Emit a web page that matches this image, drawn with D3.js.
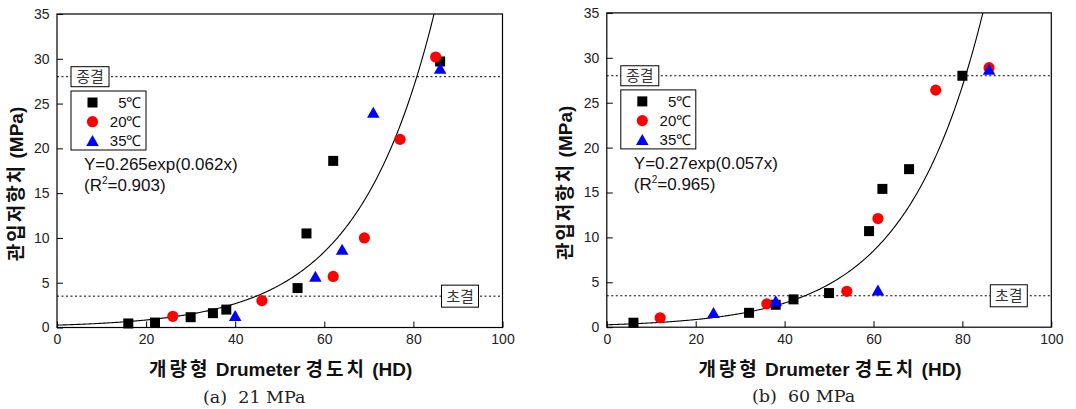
<!DOCTYPE html>
<html><head><meta charset="utf-8">
<script src="https://cdn.jsdelivr.net/npm/d3@7"></script>
<style>body{margin:0;background:#fff} svg{display:block}</style>
</head><body>
<svg id="chart" width="1076" height="409"></svg>
<script>
// ---------- data ----------
const xTicks = [0, 20, 40, 60, 80, 100];
const yTicks = [0, 5, 10, 15, 20, 25, 30, 35];
const seriesNames = ["5℃", "20℃", "35℃"];
const seriesColors = ["#000000", "#ff0000", "#0000ff"];
const seriesShapes = ["square", "circle", "triangle"];
const setTimes = [28, 3.5];            // 종결, 초결 (MPa)
const setLabels = ["종결", "초결"];

// (a) 21 MPa
const a_x5  = [16, 22, 30, 35, 38, 54, 56, 62, 86];
const a_y5  = [0.45, 0.55, 1.15, 1.6, 2.0, 4.4, 10.5, 18.6, 29.7];
const a_x20 = [26, 46, 62, 69, 77, 85];
const a_y20 = [1.25, 3.0, 5.7, 10.0, 21.0, 30.2];
const a_x35 = [40, 58, 64, 71, 86];
const a_y35 = [1.3, 5.7, 8.7, 24.0, 28.9];
const a_fit = [0.265, 0.0577];
const a_eq = "Y=0.265exp(0.062x)";
const a_r2 = "0.903";
const a_caption = "(a)  21 MPa";

// (b) 60 MPa
const b_x5  = [6, 32, 38, 42, 50, 59, 62, 68, 80];
const b_y5  = [0.5, 1.6, 2.5, 3.1, 3.8, 10.7, 15.4, 17.6, 28.0];
const b_x20 = [12, 36, 54, 61, 74, 86];
const b_y20 = [1.05, 2.6, 4.0, 12.1, 26.4, 28.9];
const b_x35 = [24, 38, 61, 86];
const b_y35 = [1.6, 2.9, 4.1, 28.7];
const b_fit = [0.27, 0.0575];
const b_eq = "Y=0.27exp(0.057x)";
const b_r2 = "0.965";
const b_caption = "(b)  60 MPa";

// title pieces: [text, isKorean]
const xTitleParts = [["개량형", true], [" Drumeter ", false], ["경도치", true], [" (HD)", false]];
const yTitleParts = [["관입저항치", true], [" (MPa)", false]];

// ---------- drawing ----------
const svg = d3.select("#chart");
const NUM_FONT = "'Liberation Sans', Arial, sans-serif";
const KR_FONT = "'Noto Sans CJK KR', sans-serif";

function markerPath(shape) {
  if (shape === "square") return "M-5,-5H5V5H-5Z";
  if (shape === "triangle") return "M0,-5.8L6.3,5.2L-6.3,5.2Z";
  return d3.symbol(d3.symbolCircle, Math.PI * 5.6 * 5.6)();
}

function addTitle(sel, parts, krSpacing) {
  parts.forEach(p => {
    sel.append("tspan")
      .attr("font-family", p[1] ? KR_FONT : NUM_FONT)
      .attr("letter-spacing", p[1] ? krSpacing : 0)
      .attr("xml:space", "preserve")
      .text(p[0]);
  });
}

function drawChart(id, box, series, fit, eq, r2, caption) {
  const g = svg.append("g");
  const x = d3.scaleLinear().domain([0, 100]).range([box.left, box.right]);
  const y = d3.scaleLinear().domain([0, 35]).range([box.bottom, box.top]);

  g.append("clipPath").attr("id", "clip" + id).append("rect")
    .attr("x", box.left).attr("y", box.top)
    .attr("width", box.right - box.left).attr("height", box.bottom - box.top);

  // axes
  const xAxis = d3.axisBottom(x).tickValues(xTicks).tickSizeInner(-6).tickSizeOuter(0).tickPadding(7);
  const yAxis = d3.axisLeft(y).tickValues(yTicks).tickSizeInner(-6).tickSizeOuter(0).tickPadding(7.5);
  const gx = g.append("g").attr("transform", `translate(0,${box.bottom})`).call(xAxis);
  const gy = g.append("g").attr("transform", `translate(${box.left},0)`).call(yAxis);
  [gx, gy].forEach(a => {
    a.select(".domain").remove();
    a.selectAll("line").attr("stroke", "#000");
    a.selectAll("text").attr("font-family", NUM_FONT).attr("font-size", 14).attr("fill", "#222");
  });
  // frame
  g.append("rect").attr("x", box.left).attr("y", box.top)
    .attr("width", box.right - box.left).attr("height", box.bottom - box.top)
    .attr("fill", "none").attr("stroke", "#000").attr("stroke-width", 1.2);

  // set-time dotted lines
  setTimes.forEach(v => {
    g.append("line").attr("x1", box.left).attr("x2", box.right)
      .attr("y1", y(v)).attr("y2", y(v))
      .attr("stroke", "#000").attr("stroke-width", 1).attr("stroke-dasharray", "2,2.5");
  });

  // fitted curve
  const xs = d3.range(0, 100.01, 0.25);
  const line = d3.line().x(d => x(d)).y(d => y(fit[0] * Math.exp(fit[1] * d)));
  g.append("path").datum(xs.filter(d => fit[0] * Math.exp(fit[1] * d) < 40))
    .attr("d", line).attr("fill", "none").attr("stroke", "#000").attr("stroke-width", 1.1)
    .attr("clip-path", `url(#clip${id})`);

  // points
  series.forEach((s, i) => {
    g.append("g").selectAll("path").data(s.xs.map((v, k) => [v, s.ys[k]])).join("path")
      .attr("d", markerPath(seriesShapes[i]))
      .attr("transform", d => `translate(${x(d[0])},${y(d[1])})`)
      .attr("fill", seriesColors[i]);
  });

  // 종결 box (upper left), 초결 box (lower right)
  const bw = 38, bh = 20;
  const b1x = box.left + 14, b1y = y(setTimes[0]) - bh / 2;
  g.append("rect").attr("x", b1x).attr("y", b1y).attr("width", bw).attr("height", bh)
    .attr("fill", "#fff").attr("stroke", "#000").attr("stroke-width", 1);
  g.append("text").attr("x", b1x + bw / 2).attr("y", b1y + bh / 2 + 5.5)
    .attr("text-anchor", "middle").attr("font-family", KR_FONT).attr("font-size", 15)
    .attr("fill", "#333").text(setLabels[0]);
  const b2x = box.right - 24 - 37, b2y = y(setTimes[1]) - 11;
  g.append("rect").attr("x", b2x).attr("y", b2y).attr("width", 37).attr("height", 22)
    .attr("fill", "#fff").attr("stroke", "#000").attr("stroke-width", 1);
  g.append("text").attr("x", b2x + 37 / 2).attr("y", b2y + 11 + 5.5)
    .attr("text-anchor", "middle").attr("font-family", KR_FONT).attr("font-size", 15)
    .attr("fill", "#333").text(setLabels[1]);

  // legend
  const lx = box.left + 14, ly = box.top + 77;
  g.append("rect").attr("x", lx).attr("y", ly).attr("width", 75).attr("height", 59)
    .attr("fill", "#fff").attr("stroke", "#000").attr("stroke-width", 1);
  seriesNames.forEach((n, i) => {
    const ry = box.top + 88.5 + i * 19.2;
    g.append("path").attr("d", markerPath(seriesShapes[i]))
      .attr("transform", `translate(${box.left + 35.5},${ry})`).attr("fill", seriesColors[i]);
    g.append("text").attr("x", box.left + 84.5).attr("y", ry + 5.5)
      .attr("text-anchor", "end").attr("font-family", NUM_FONT).attr("font-size", 15)
      .attr("fill", "#111").text(n);
  });

  // equation
  g.append("text").attr("x", box.left + 27).attr("y", box.top + 156)
    .attr("font-family", NUM_FONT).attr("font-size", 17).attr("fill", "#111").text(eq);
  const t2 = g.append("text").attr("x", box.left + 27).attr("y", box.top + 177)
    .attr("font-family", NUM_FONT).attr("font-size", 17).attr("fill", "#111");
  t2.append("tspan").text("(R");
  t2.append("tspan").attr("font-size", 10).attr("dy", -7).text("2");
  t2.append("tspan").attr("dy", 7).text("=" + r2 + ")");

  // axis titles
  const cx = (box.left + box.right) / 2;
  const xt = g.append("text").attr("x", cx + 1).attr("y", box.bottom + 48.5)
    .attr("text-anchor", "middle").attr("font-weight", "bold")
    .attr("font-size", 19).attr("fill", "#111");
  addTitle(xt, xTitleParts, 3);
  const yt = g.append("text").attr("transform", `translate(${box.left - 34.5},${box.top + 170}) rotate(-90)`)
    .attr("text-anchor", "middle").attr("font-weight", "bold")
    .attr("font-size", 19).attr("fill", "#111");
  addTitle(yt, yTitleParts, 2);
  // caption
  g.append("text").attr("x", cx - 25.5).attr("y", box.bottom + 75)
    .attr("text-anchor", "middle").attr("font-family", "'DejaVu Serif', 'Liberation Serif', serif")
    .attr("font-size", 17.5).attr("fill", "#222").attr("xml:space", "preserve").text(caption);
}

drawChart("a", {left: 57, right: 502.5, top: 14, bottom: 327.5},
  [{xs: a_x5, ys: a_y5}, {xs: a_x20, ys: a_y20}, {xs: a_x35, ys: a_y35}],
  a_fit, a_eq, a_r2, a_caption);
drawChart("b", {left: 606.8, right: 1051.3, top: 12.9, bottom: 327.2},
  [{xs: b_x5, ys: b_y5}, {xs: b_x20, ys: b_y20}, {xs: b_x35, ys: b_y35}],
  b_fit, b_eq, b_r2, b_caption);
</script>
</body></html>
